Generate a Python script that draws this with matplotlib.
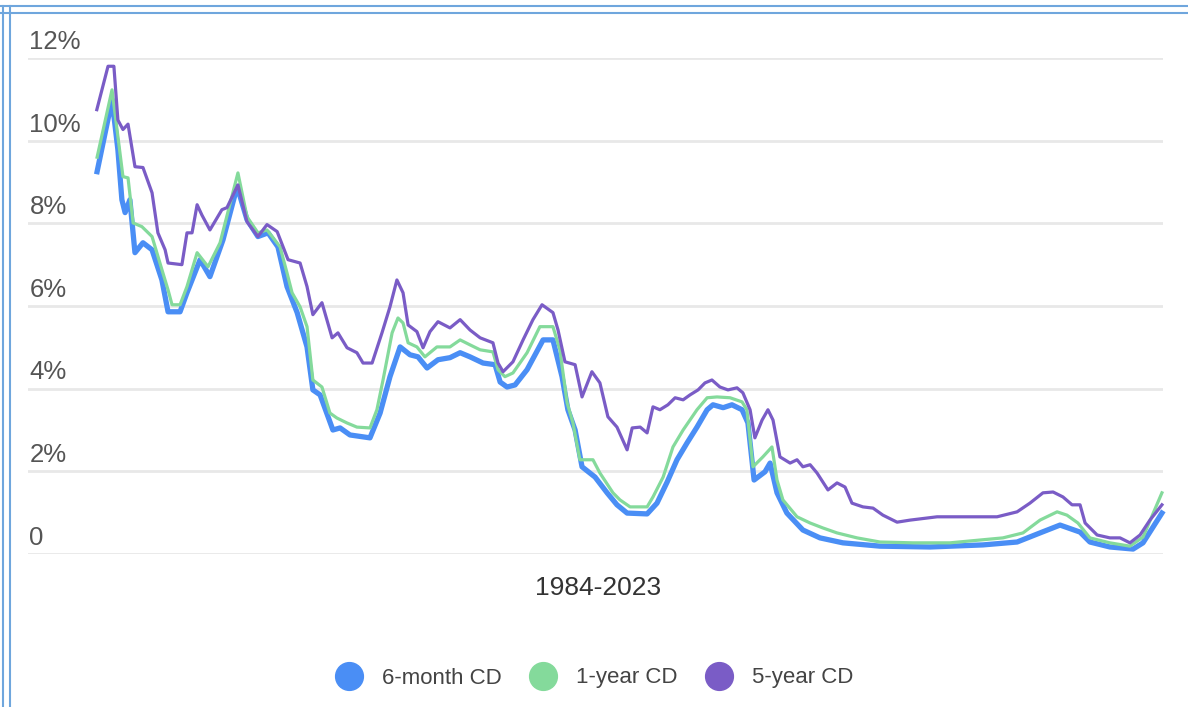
import matplotlib.pyplot as plt
from matplotlib.lines import Line2D

# CD rates 1984-2023
years_5y = [1984.03, 1984.45, 1984.67, 1984.82, 1985.01, 1985.20, 1985.46, 1985.76, 1986.10, 1986.32,
            1986.59, 1986.70, 1987.22, 1987.41, 1987.60, 1987.79, 1987.97, 1988.27, 1988.72, 1988.91,
            1989.32, 1989.66, 1990.07, 1990.41, 1990.79, 1991.20, 1991.65, 1991.91, 1992.13, 1992.47,
            1992.85, 1993.07, 1993.41, 1993.78, 1994.01, 1994.35, 1994.72, 1995.02, 1995.28, 1995.51,
            1995.70, 1996.03, 1996.26, 1996.52, 1996.82, 1997.27, 1997.65, 1998.02, 1998.40, 1998.88,
            1999.07, 1999.26, 1999.63, 2000.01, 2000.38, 2000.72, 2001.13, 2001.32, 2001.58, 2001.96,
            2002.22, 2002.59, 2002.89, 2003.19, 2003.53, 2003.91, 2004.10, 2004.40, 2004.66, 2004.88,
            2005.14, 2005.44, 2005.71, 2006.01, 2006.27, 2006.57, 2006.83, 2007.09, 2007.39, 2007.69,
            2008.03, 2008.25, 2008.52, 2008.70, 2008.97, 2009.19, 2009.38, 2009.64, 2010.02, 2010.28,
            2010.50, 2010.77, 2011.03, 2011.44, 2011.78, 2012.08, 2012.34, 2012.75, 2013.13, 2013.50,
            2014.03, 2014.52, 2015.53, 2016.77, 2017.78, 2018.53, 2019.01, 2019.50, 2019.88, 2020.25,
            2020.59, 2020.89, 2021.08, 2021.53, 2022.01, 2022.39, 2022.76, 2023.14, 2023.51, 2023.96]
rate_5y = [10.75, 11.8, 11.8, 10.5, 10.27, 10.4, 9.37, 9.35, 8.74, 7.77,
           7.36, 7.04, 7.0, 7.77, 7.77, 8.45, 8.2, 7.84, 8.33, 8.38,
           8.93, 8.04, 7.68, 7.97, 7.8, 7.12, 7.04, 6.47, 5.79, 6.08,
           5.23, 5.35, 4.99, 4.87, 4.62, 4.62, 5.35, 5.98, 6.63, 6.32,
           5.54, 5.38, 4.99, 5.38, 5.62, 5.47, 5.67, 5.42, 5.23, 5.11,
           4.62, 4.41, 4.65, 5.18, 5.67, 6.03, 5.84, 5.42, 4.65, 4.58,
           3.80, 4.41, 4.14, 3.32, 3.07, 2.52, 3.05, 3.07, 2.93, 3.56,
           3.49, 3.61, 3.78, 3.73, 3.85, 3.97, 4.14, 4.21, 4.04, 3.97,
           4.02, 3.90, 3.49, 2.81, 3.24, 3.49, 3.24, 2.35, 2.20, 2.28,
           2.11, 2.16, 1.96, 1.55, 1.72, 1.62, 1.23, 1.14, 1.11, 0.94,
           0.77, 0.82, 0.90, 0.90, 0.90, 1.02, 1.23, 1.48, 1.50, 1.38,
           1.19, 1.19, 0.75, 0.46, 0.39, 0.39, 0.27, 0.46, 0.82, 1.19]

years_1y = [1984.04, 1984.60, 1984.82, 1985.01, 1985.20, 1985.39, 1985.72, 1986.10, 1986.47, 1986.70,
            1986.85, 1987.15, 1987.41, 1987.79, 1988.20, 1988.65, 1989.32, 1989.66, 1990.07, 1990.41,
            1990.90, 1991.16, 1991.35, 1991.65, 1991.91, 1992.13, 1992.47, 1992.77, 1993.03, 1993.41,
            1993.78, 1994.27, 1994.53, 1994.76, 1995.10, 1995.32, 1995.51, 1995.70, 1996.03, 1996.33,
            1996.78, 1997.27, 1997.65, 1998.02, 1998.40, 1998.88, 1999.07, 1999.33, 1999.63, 2000.16,
            2000.64, 2001.13, 2001.39, 2001.66, 2001.88, 2002.14, 2002.63, 2002.89, 2003.38, 2003.64,
            2004.02, 2004.66, 2004.88, 2005.26, 2005.63, 2006.01, 2006.53, 2006.91, 2007.28, 2007.77,
            2008.22, 2008.40, 2008.63, 2009.00, 2009.34, 2009.53, 2009.75, 2010.28, 2010.77, 2011.25,
            2011.78, 2012.53, 2013.39, 2014.63, 2016.01, 2018.00, 2018.75, 2019.39, 2020.03, 2020.40,
            2020.81, 2021.26, 2022.01, 2022.76, 2023.25, 2023.96]
rate_1y = [9.6, 11.23, 10.1, 9.13, 9.1, 8.01, 7.92, 7.68, 6.88, 6.39,
           6.03, 6.03, 6.47, 7.29, 6.95, 7.53, 9.22, 8.16, 7.77, 7.84,
           7.43, 6.80, 6.32, 5.98, 5.50, 4.21, 4.04, 3.41, 3.29, 3.17,
           3.07, 3.05, 3.49, 4.21, 5.35, 5.71, 5.59, 5.11, 5.01, 4.77,
           5.01, 5.01, 5.18, 5.06, 4.94, 4.89, 4.46, 4.29, 4.38, 4.87,
           5.50, 5.50, 4.94, 3.66, 3.17, 2.28, 2.28, 1.96, 1.48, 1.31,
           1.14, 1.14, 1.38, 1.86, 2.59, 3.00, 3.49, 3.78, 3.80, 3.78,
           3.68, 3.49, 2.11, 2.35, 2.59, 1.79, 1.31, 0.90, 0.75, 0.63,
           0.51, 0.39, 0.29, 0.27, 0.27, 0.39, 0.51, 0.82, 1.02, 0.94,
           0.75, 0.39, 0.27, 0.19, 0.41, 1.48]

years_6m = [1984.04, 1984.60, 1984.82, 1984.97, 1985.09, 1985.27, 1985.46, 1985.76, 1986.10, 1986.47,
            1986.70, 1987.15, 1987.41, 1987.90, 1988.27, 1988.76, 1989.29, 1989.66, 1990.07, 1990.45,
            1990.82, 1991.16, 1991.54, 1991.91, 1992.13, 1992.40, 1992.88, 1993.15, 1993.52, 1994.27,
            1994.65, 1995.02, 1995.40, 1995.77, 1996.07, 1996.41, 1996.82, 1997.27, 1997.65, 1998.02,
            1998.51, 1998.96, 1999.15, 1999.41, 1999.71, 2000.16, 2000.76, 2001.13, 2001.47, 2001.69,
            2001.96, 2002.22, 2002.71, 2003.16, 2003.53, 2003.91, 2004.66, 2005.03, 2005.41, 2005.78,
            2006.16, 2006.53, 2006.91, 2007.13, 2007.51, 2007.84, 2008.22, 2008.44, 2008.67, 2009.08,
            2009.27, 2009.53, 2009.90, 2010.50, 2011.14, 2012.00, 2013.39, 2015.27, 2017.25, 2018.53,
            2019.39, 2020.14, 2020.89, 2021.26, 2022.01, 2022.88, 2023.25, 2023.96]
rate_6m = [9.25, 10.99, 9.78, 8.57, 8.26, 8.57, 7.29, 7.53, 7.36, 6.63,
           5.86, 5.86, 6.32, 7.12, 6.71, 7.60, 8.89, 8.09, 7.68, 7.77,
           7.43, 6.47, 5.84, 5.01, 3.97, 3.85, 3.00, 3.05, 2.88, 2.81,
           3.41, 4.29, 5.01, 4.82, 4.77, 4.50, 4.70, 4.75, 4.87, 4.77,
           4.62, 4.58, 4.16, 4.04, 4.09, 4.46, 5.18, 5.18, 4.29, 3.49,
           3.00, 2.11, 1.86, 1.48, 1.19, 0.99, 0.97, 1.23, 1.74, 2.28,
           2.69, 3.07, 3.49, 3.61, 3.54, 3.61, 3.49, 3.17, 1.79, 1.99,
           2.20, 1.48, 0.99, 0.58, 0.39, 0.27, 0.19, 0.17, 0.22, 0.29,
           0.51, 0.70, 0.53, 0.29, 0.17, 0.12, 0.27, 0.99]

y_ticks = [0, 2, 4, 6, 8, 10, 12]
y_labels = ["0", "2%", "4%", "6%", "8%", "10%", "12%"]
series_names = ["6-month CD", "1-year CD", "5-year CD"]
colors = ["#4a8ef5", "#84da9b", "#7a5cc6"]

W, H = 1188, 707
fig = plt.figure(figsize=(W / 100, H / 100), dpi=100)
plt.rcParams['font.family'] = ['Liberation Sans', 'DejaVu Sans']

# axes box in pixels: gridlines from x=28 to 1163, 0 at y=554, 12% at y=58
ax = fig.add_axes([28 / W, 1 - 554 / H, (1163 - 28) / W, (554 - 58) / H])
ax.set_xlim(1981.45, 2024.0)
ax.set_ylim(0, 12)
ax.axis("off")

for v, lab in zip(y_ticks, y_labels):
    ax.axhline(v, color="#e8e8e8", lw=2, zorder=1)
    ax.annotate(lab, xy=(0, v), xycoords=("axes fraction", "data"),
                xytext=(1, 3), textcoords="offset points",
                ha="left", va="bottom", fontsize=18.5, color="#555555")

ax.plot(years_6m, rate_6m, color=colors[0], lw=3.8, zorder=2, clip_on=False,
        solid_joinstyle="round")
ax.plot(years_1y, rate_1y, color=colors[1], lw=2.3, zorder=3, clip_on=False,
        solid_joinstyle="round")
ax.plot(years_5y, rate_5y, color=colors[2], lw=2.3, zorder=4, clip_on=False,
        solid_joinstyle="round")

fig.text(598 / W, 1 - 588 / H, "1984-2023", ha="center", va="center",
         fontsize=19, color="#333333")

handles = [Line2D([], [], ls="none", marker="o", markersize=20,
                  markerfacecolor=c, markeredgecolor=c) for c in colors]
fig.legend(handles, series_names, loc="center", bbox_to_anchor=(590 / W, 1 - 678 / H),
           ncol=3, frameon=False, fontsize=16, handletextpad=0.5,
           columnspacing=0.85, labelcolor="#444444")

# double blue frame on top and left edges
for off in (6, 13):
    fig.add_artist(Line2D([0, 1], [1 - off / H] * 2, color="#6fa6dd", lw=1.5))
for off in (2.5, 9.5):
    fig.add_artist(Line2D([off / W] * 2, [0, 1 - 6 / H], color="#6fa6dd", lw=1.5))

fig.savefig("out.png", dpi=100)
